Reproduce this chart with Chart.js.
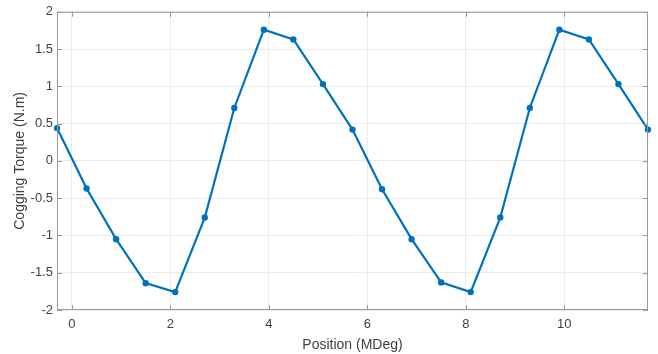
<!DOCTYPE html>
<html>
<head>
<meta charset="utf-8">
<script src="https://cdn.jsdelivr.net/npm/chart.js@4.4.1/dist/chart.umd.min.js"></script>
<style>
  html, body { margin: 0; padding: 0; background: #fff; }
  #wrap { width: 658px; height: 354px; position: relative; }
</style>
</head>
<body>
<div id="wrap"><canvas id="torqueChart"></canvas></div>
<script>
// positions (MDeg) and cogging torque (N.m)
const positions = [-0.3, 0.3, 0.9, 1.5, 2.1, 2.7, 3.3, 3.9, 4.5, 5.1, 5.7,
                   6.3, 6.9, 7.5, 8.1, 8.7, 9.3, 9.9, 10.5, 11.1, 11.7];
const torque = [0.44, -0.37, -1.05, -1.64, -1.76, -0.76, 0.71, 1.76, 1.63, 1.03, 0.42,
                -0.38, -1.05, -1.63, -1.76, -0.76, 0.71, 1.76, 1.63, 1.03, 0.42];
const xTicks = [0, 2, 4, 6, 8, 10];
const yTicks = [-2, -1.5, -1, -0.5, 0, 0.5, 1, 1.5, 2];

const axisColor = '#9a9a9a';
const textColor = '#404040';

// matlab style box with inward ticks on every side
const boxPlugin = {
    id: 'box',
    afterDraw(chart) {
        const { ctx, chartArea: a, scales } = chart;
        ctx.save();
        ctx.strokeStyle = axisColor;
        ctx.lineWidth = 1;
        ctx.strokeRect(a.left + 0.5, a.top + 0.5, a.right - a.left - 1, a.bottom - a.top - 1);
        ctx.beginPath();
        const len = 5;
        scales.x.ticks.forEach(t => {
            const px = Math.round(scales.x.getPixelForValue(t.value)) + 0.5;
            ctx.moveTo(px, a.bottom); ctx.lineTo(px, a.bottom - len);
            ctx.moveTo(px, a.top); ctx.lineTo(px, a.top + len);
        });
        scales.y.ticks.forEach(t => {
            const py = Math.round(scales.y.getPixelForValue(t.value)) + 0.5;
            ctx.moveTo(a.left, py); ctx.lineTo(a.left + len, py);
            ctx.moveTo(a.right, py); ctx.lineTo(a.right - len, py);
        });
        ctx.stroke();
        ctx.restore();
    }
};

Chart.defaults.font.family = '"Liberation Sans", Arial, sans-serif';
Chart.defaults.color = textColor;

const ctx = document.getElementById('torqueChart').getContext('2d');
new Chart(ctx, {
    type: 'scatter',
    data: {
        datasets: [{
            data: positions.map((x, i) => ({ x: x, y: torque[i] })),
            showLine: true,
            borderColor: '#0072BD',
            backgroundColor: '#0072BD',
            borderWidth: 2.2,
            pointRadius: 3.2,
            pointBorderWidth: 0,
            clip: 4
        }]
    },
    options: {
        responsive: true,
        maintainAspectRatio: false,
        animation: false,
        layout: { padding: { top: 11, right: 10, left: 0, bottom: 0 } },
        plugins: { legend: { display: false }, tooltip: { enabled: false } },
        scales: {
            x: {
                type: 'linear',
                min: -0.3,
                max: 11.7,
                afterBuildTicks: s => { s.ticks = xTicks.map(v => ({ value: v })); },
                afterFit: s => { s.height = 44; },
                grid: { color: '#ebebeb', drawTicks: false },
                border: { display: false },
                ticks: { padding: 7, font: { size: 13 }, color: textColor },
                title: {
                    display: true,
                    text: 'Position (MDeg)',
                    font: { size: 14 },
                    color: textColor,
                    padding: { top: 1, bottom: 0 }
                }
            },
            y: {
                min: -2,
                max: 2,
                afterBuildTicks: s => { s.ticks = yTicks.map(v => ({ value: v })); },
                afterFit: s => { s.width = 57; },
                grid: { color: '#ebebeb', drawTicks: false },
                border: { display: false },
                ticks: {
                    padding: 4,
                    font: { size: 13 },
                    color: textColor,
                    callback: v => String(v)
                },
                title: {
                    display: true,
                    text: 'Cogging Torque (N.m)',
                    font: { size: 14 },
                    color: textColor,
                    padding: { top: 12, bottom: 0 }
                }
            }
        }
    },
    plugins: [boxPlugin]
});
</script>
</body>
</html>
